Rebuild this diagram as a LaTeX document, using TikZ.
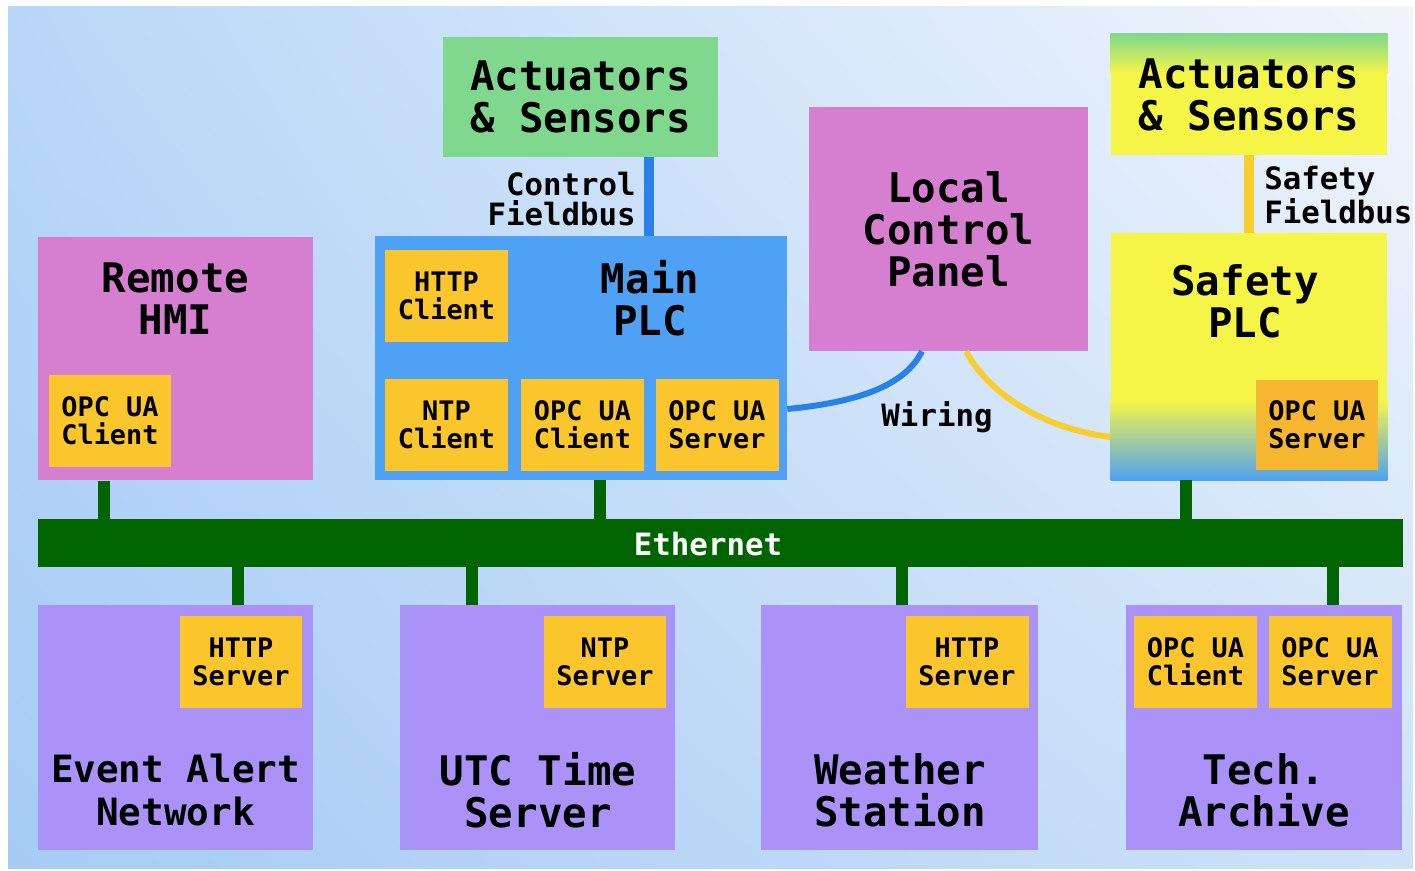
\documentclass[tikz,border=0pt]{standalone}
\usepackage{fontspec}
\setmonofont{DejaVu Sans Mono}
\usetikzlibrary{positioning, shadings}
\definecolor{fieldgreen}{RGB}{128, 216, 142}
\definecolor{plcblue}{RGB}{78, 161, 244}
\definecolor{panelpink}{RGB}{214, 126, 208}
\definecolor{hostviolet}{RGB}{170, 146, 248}
\definecolor{svcgold}{RGB}{251, 198, 44}
\definecolor{svcorange}{RGB}{247, 182, 48}
\definecolor{safetyyellow}{RGB}{245, 245, 72}
\definecolor{ethgreen}{RGB}{0, 100, 0}
\definecolor{busblue}{RGB}{40, 128, 232}
\definecolor{busyellow}{RGB}{248, 206, 46}
\definecolor{bgul}{RGB}{184, 215, 248}
\definecolor{bgur}{RGB}{242, 245, 251}
\definecolor{bgll}{RGB}{166, 203, 245}
\definecolor{bglr}{RGB}{205, 226, 248}
\newcommand\bigfont{\ttfamily\bfseries\fontsize{23.2}{24}\selectfont}
\newcommand\midfont{\ttfamily\bfseries\fontsize{17.5}{17.2}\selectfont}
\newcommand\svcfont{\ttfamily\bfseries\fontsize{15.3}{16}\selectfont}

\begin{document}
\begin{tikzpicture}[
        x=0.02cm, y=-0.02cm,
        block/.style={rectangle, inner sep=0pt, minimum width=5.5cm,
                      minimum height=4.88cm, align=center, font=\bigfont},
        host/.style={block, fill=hostviolet, minimum height=4.9cm},
        svc/.style={rectangle, inner sep=0pt, fill=svcgold, minimum width=2.46cm,
                    minimum height=1.84cm, align=center, font=\svcfont},
        title/.style={align=center, font=\bigfont, inner sep=0pt},
        buslabel/.style={align=left, font=\midfont, inner sep=0pt},
        ethlink/.style={ethgreen, line width=6.8pt},
        wire/.style={line width=3.4pt},
    ]
        % background
        \useasboundingbox (0,0) rectangle (1415,870);
        \fill[white] (0,0) rectangle (1415,870);
        \shade[upper left=bgul, upper right=bgur, lower left=bgll, lower right=bglr]
            (8,6) rectangle (1413,868);

        % field level
        \node[block, fill=fieldgreen, minimum height=2.4cm] (act) at (580.5,97) {Actuators\\\& Sensors};
        \node[block, fill=safetyyellow, minimum width=5.52cm, minimum height=2.42cm] (sact) at (1249,94.5) {};
        \shade[top color=fieldgreen, bottom color=safetyyellow]
            (sact.north west) rectangle ([yshift=-0.8cm]sact.north east);
        \node[title] (sactt) at (1249,95) {Actuators\\\& Sensors};

        % controllers
        \node[block, fill=panelpink] (hmi) at (175.5,358.5) {};
        \node[title] (hmit) at (175.5,299) {Remote\\HMI};
        \node[svc] (hmiua) at (110,421) {OPC UA\\Client};

        \node[block, fill=plcblue, minimum width=8.24cm] (plc) at (581,358) {};
        \node[title] (plct) at (650,298) {Main\\PLC};
        \node[svc] (plchttp) at (446.5,296) {HTTP\\Client};
        \node[svc] (plcntp) at (446.5,425) {NTP\\Client};
        \node[svc] (plcuac) at (582.5,425) {OPC UA\\Client};
        \node[svc] (plcuas) at (717,425) {OPC UA\\Server};

        \node[block, fill=panelpink, minimum width=5.58cm] (lcp) at (948.5,229) {Local\\Control\\Panel};

        \node[block, fill=safetyyellow, minimum width=5.52cm, minimum height=4.94cm] (splc) at (1249,356.5) {};
        \shade[top color=safetyyellow, bottom color=plcblue]
            ([yshift=1.6cm]splc.south west) rectangle (splc.south east);
        \node[title] (splct) at (1245,301) {Safety\\PLC};
        \node[svc, fill=svcorange, minimum width=2.44cm, minimum height=1.8cm] (splcua) at (1317,425) {OPC UA\\Server};

        % fieldbuses
        \draw[busblue, line width=5.7pt] (act.south -| 649,0) -- (plc.north -| 649,0);
        \node[buslabel, align=right, anchor=east] (ctrlbus) at (636,199) {Control\\Fieldbus};
        \draw[busyellow, line width=5.7pt] (sact) -- (splc);
        \node[buslabel, anchor=west] (safebus) at (1264,195) {Safety\\Fieldbus};

        % wiring to the local panel
        \draw[wire, busblue] (plc.east |- 0,409) .. controls (860,402) and (905,385) .. (lcp.south -| 922,0);
        \draw[wire, busyellow] (lcp.south -| 966,0) .. controls (988,392) and (1040,428) .. (splc.west |- 0,437);
        \node[buslabel] (wiring) at (937,417) {Wiring};

        % Ethernet
        \node[fill=ethgreen, minimum width=27.3cm, minimum height=0.96cm, inner sep=0pt] (eth) at (720.5,543) {};
        \node[font=\midfont, text=white, inner sep=0pt] (ethl) at (708,544) {Ethernet};

        % hosts
        \node[host] (alert) at (175.5,727.5) {};
        \node[title, font=\ttfamily\bfseries\fontsize{21.4}{24}\selectfont] (alertt) at (175.5,790) {Event Alert\\Network};
        \node[svc] (alerthttp) at (241,661.5) {HTTP\\Server};

        \node[host] (utc) at (537.5,727.5) {};
        \node[title] (utct) at (538,790) {UTC Time\\Server};
        \node[svc] (utcntp) at (605,661.5) {NTP\\Server};

        \node[host, minimum width=5.54cm] (wst) at (899.5,727.5) {};
        \node[title] (wstt) at (900,790) {Weather\\Station};
        \node[svc] (wsthttp) at (967,661.5) {HTTP\\Server};

        \node[host, minimum width=5.52cm] (arc) at (1264,727.5) {};
        \node[title] (arct) at (1264,790) {Tech.\\Archive};
        \node[svc] (arcuac) at (1195.5,661.5) {OPC UA\\Client};
        \node[svc] (arcuas) at (1330,661.5) {OPC UA\\Server};

        % Ethernet drops
        \draw[ethlink] (hmi.south -| 104,0) -- (eth.north -| 104,0);
        \draw[ethlink] (plc.south -| 600,0) -- (eth.north -| 600,0);
        \draw[ethlink] (splc.south -| 1186,0) -- (eth.north -| 1186,0);
        \draw[ethlink] (eth.south -| 238,0) -- (alert.north -| 238,0);
        \draw[ethlink] (eth.south -| 472,0) -- (utc.north -| 472,0);
        \draw[ethlink] (eth.south -| 902,0) -- (wst.north -| 902,0);
        \draw[ethlink] (eth.south -| 1333,0) -- (arc.north -| 1333,0);

    \end{tikzpicture}
\end{document}
